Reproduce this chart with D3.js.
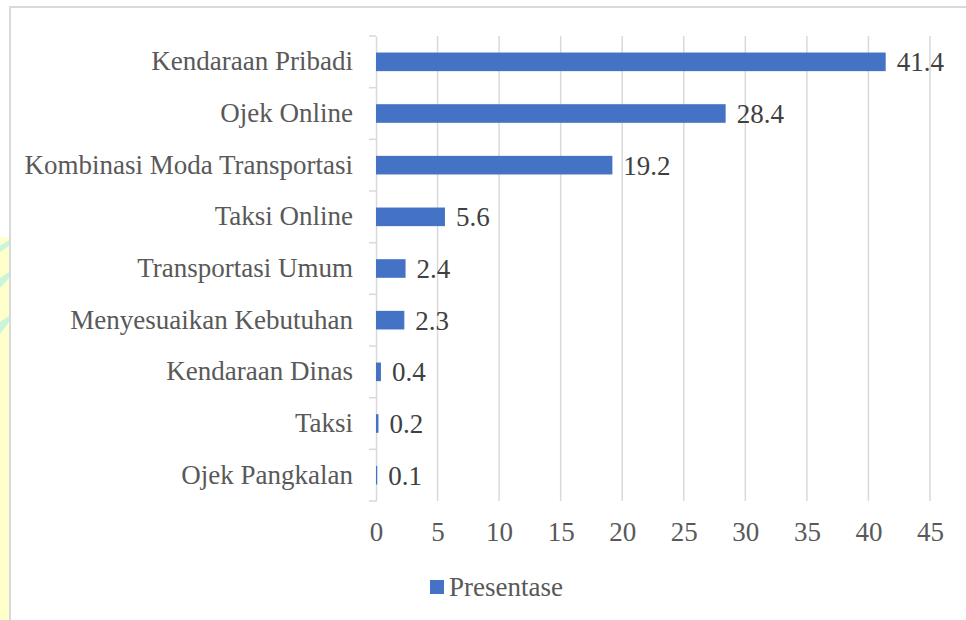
<!DOCTYPE html>
<html>
<head>
<meta charset="utf-8">
<script src="https://cdn.jsdelivr.net/npm/d3@7"></script>
<style>
    body { margin: 0; background: #fff; }
    svg { display: block; }
</style>
</head>
<body>
<div id="chart"></div>
<script>
const categories = [
    "Kendaraan Pribadi",
    "Ojek Online",
    "Kombinasi Moda Transportasi",
    "Taksi Online",
    "Transportasi Umum",
    "Menyesuaikan Kebutuhan",
    "Kendaraan Dinas",
    "Taksi",
    "Ojek Pangkalan"
];
const values = [41.4, 28.4, 19.2, 5.6, 2.4, 2.3, 0.4, 0.2, 0.1];
const xTicks = [0, 5, 10, 15, 20, 25, 30, 35, 40, 45];
const seriesName = "Presentase";

const W = 966, H = 620;
const plot = { left: 376, right: 930, top: 36, bottom: 501 };
const font = "Liberation Serif";
const fontSize = 27;

const svg = d3.select("#chart").append("svg")
    .attr("width", W)
    .attr("height", H)
    .attr("font-family", font)
    .attr("font-size", fontSize);

// faint watermark strip on the left edge
svg.append("rect")
    .attr("x", 0).attr("y", 237)
    .attr("width", 10).attr("height", H - 237)
    .attr("fill", "#ffffcc");
[[240, 252], [272, 288], [316, 334]].forEach(([a, b]) => {
    svg.append("path")
        .attr("d", `M0,${a + 6} L9,${a} L9,${a + 6} L0,${b}Z`)
        .attr("fill", "#c8f5dc");
});

// chart border
svg.append("rect")
    .attr("x", 10).attr("y", 7)
    .attr("width", W).attr("height", H)
    .attr("fill", "none")
    .attr("stroke", "#d9d9d9")
    .attr("stroke-width", 2);

const x = d3.scaleLinear()
    .domain([0, 45])
    .range([plot.left, plot.right]);

const y = d3.scaleBand()
    .domain(categories)
    .range([plot.top, plot.bottom]);

const barH = y.bandwidth() * 0.36;

// vertical gridlines
svg.append("g")
    .selectAll("line")
    .data(xTicks.slice(1))
    .enter().append("line")
    .attr("x1", d => x(d)).attr("x2", d => x(d))
    .attr("y1", plot.top).attr("y2", plot.bottom)
    .attr("stroke", "#d9d9d9")
    .attr("stroke-width", 1.5);

// category axis
const yAxis = svg.append("g")
    .attr("transform", `translate(${plot.left},0)`)
    .call(d3.axisLeft(y).tickSize(0).tickPadding(23));
yAxis.attr("font-family", font).attr("font-size", fontSize);
yAxis.select(".domain").attr("stroke", "#d9d9d9").attr("stroke-width", 1.5);
yAxis.selectAll("text").attr("fill", "#595959");

// tick marks between categories
const bounds = categories.map(c => y(c)).concat([plot.bottom]);
svg.append("g")
    .selectAll("line")
    .data(bounds)
    .enter().append("line")
    .attr("x1", plot.left - 7).attr("x2", plot.left)
    .attr("y1", d => d).attr("y2", d => d)
    .attr("stroke", "#d9d9d9")
    .attr("stroke-width", 1.5);

// value axis labels
const xAxis = svg.append("g")
    .attr("transform", `translate(0,${plot.bottom})`)
    .call(d3.axisBottom(x).tickValues(xTicks).tickSize(0).tickPadding(21).tickFormat(d3.format("d")));
xAxis.attr("font-family", font).attr("font-size", fontSize);
xAxis.select(".domain").remove();
xAxis.selectAll("text").attr("fill", "#595959");

// bars
svg.selectAll(".bar")
    .data(values)
    .enter().append("rect")
    .attr("class", "bar")
    .attr("x", x(0))
    .attr("y", (d, i) => y(categories[i]) + (y.bandwidth() - barH) / 2)
    .attr("width", d => x(d) - x(0))
    .attr("height", barH)
    .attr("fill", "#4472c4");

// data labels
svg.selectAll(".val")
    .data(values)
    .enter().append("text")
    .attr("class", "val")
    .attr("x", d => x(d) + 11)
    .attr("y", (d, i) => y(categories[i]) + y.bandwidth() / 2)
    .attr("dy", "0.35em")
    .attr("fill", "#404040")
    .text(d => d);

// legend
const legend = svg.append("g").attr("transform", "translate(430,587)");
legend.append("rect")
    .attr("x", 0).attr("y", -7)
    .attr("width", 14).attr("height", 14)
    .attr("fill", "#4472c4");
legend.append("text")
    .attr("x", 19).attr("y", 0)
    .attr("dy", "0.35em")
    .attr("fill", "#595959")
    .text(seriesName);
</script>
</body>
</html>
